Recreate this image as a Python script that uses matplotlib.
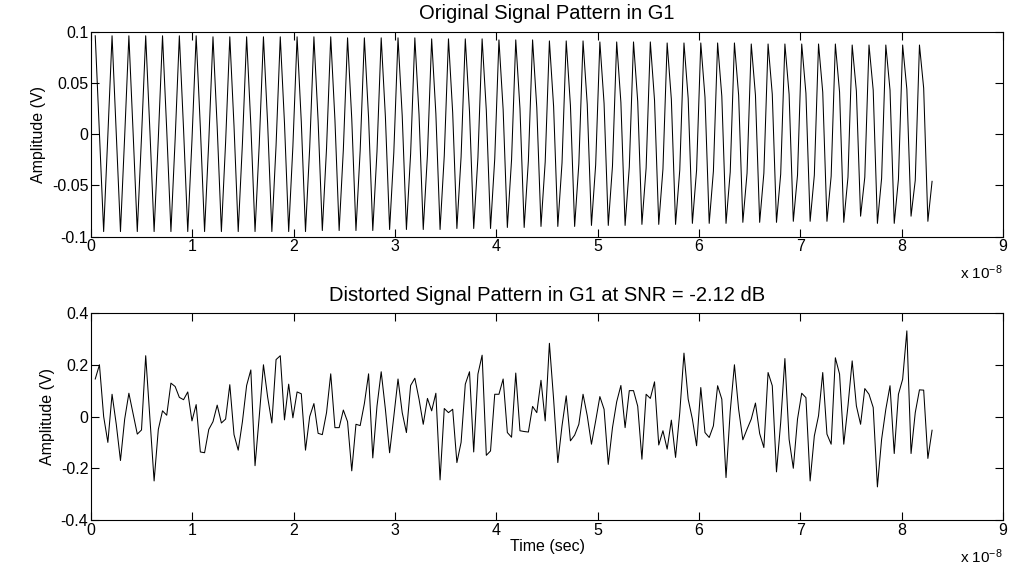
import numpy as np
import matplotlib
matplotlib.use('Agg')
import matplotlib.pyplot as plt
from matplotlib.ticker import FuncFormatter

plt.rcParams['font.family'] = ['Liberation Sans', 'DejaVu Sans']
plt.rcParams['mathtext.default'] = 'regular'

# ==================== data ====================
dt = 0.0415e-8          # sample step (sec)
n_samples = 200

# original signal: one value per sample, 4 samples per cycle
# (peak, after-peak, trough, after-trough) for each of 50 cycles
peaks = [0.096, 0.096, 0.096, 0.096, 0.096, 0.096, 0.096, 0.095, 0.095, 0.095,
         0.095, 0.095, 0.095, 0.095, 0.095, 0.094, 0.094, 0.094, 0.094, 0.094,
         0.093, 0.093, 0.093, 0.093, 0.092, 0.092, 0.092, 0.091, 0.091, 0.091,
         0.090, 0.090, 0.090, 0.090, 0.089, 0.089, 0.089, 0.089, 0.089, 0.088,
         0.088, 0.088, 0.088, 0.088, 0.088, 0.087, 0.087, 0.087, 0.087, 0.087]
after_peak = [0.000, 0.001, 0.002, 0.003, 0.004, 0.005, 0.006, 0.007, 0.008, 0.009,
              0.010, 0.011, 0.012, 0.013, 0.014, 0.015, 0.016, 0.017, 0.018, 0.019,
              0.020, 0.021, 0.022, 0.023, 0.024, 0.025, 0.026, 0.027, 0.028, 0.029,
              0.030, 0.031, 0.032, 0.033, 0.034, 0.035, 0.036, 0.037, 0.038, 0.038,
              0.039, 0.039, 0.040, 0.041, 0.041, 0.042, 0.043, 0.043, 0.044, 0.045]
troughs = [-0.095, -0.095, -0.095, -0.095, -0.095, -0.095, -0.095, -0.095, -0.095, -0.095,
           -0.095, -0.095, -0.095, -0.094, -0.094, -0.094, -0.094, -0.093, -0.093, -0.093,
           -0.093, -0.092, -0.092, -0.092, -0.091, -0.091, -0.090, -0.090, -0.090, -0.089,
           -0.089, -0.089, -0.088, -0.088, -0.088, -0.087, -0.087, -0.087, -0.086, -0.086,
           -0.086, -0.085, -0.085, -0.085, -0.086, -0.080, -0.087, -0.087, -0.080, -0.085]
after_trough = [-0.001, -0.002, -0.003, -0.004, -0.005, -0.006, -0.007, -0.008, -0.009, -0.010,
                -0.011, -0.012, -0.013, -0.014, -0.015, -0.016, -0.017, -0.018, -0.019, -0.020,
                -0.021, -0.022, -0.023, -0.024, -0.025, -0.026, -0.027, -0.028, -0.029, -0.030,
                -0.031, -0.032, -0.033, -0.034, -0.035, -0.035, -0.036, -0.037, -0.038, -0.038,
                -0.039, -0.040, -0.040, -0.041, -0.042, -0.042, -0.043, -0.044, -0.045, -0.046]

# distorted signal (SNR = -2.12 dB), 200 samples
distorted = [
    0.145, 0.200, 0.000, -0.100, 0.086, -0.030, -0.170, -0.010, 0.090, 0.010,
    -0.068, -0.052, 0.235, -0.010, -0.249, -0.050, 0.022, 0.005, 0.129, 0.116,
    0.074, 0.065, 0.095, -0.017, 0.046, -0.137, -0.140, -0.050, -0.020, 0.044,
    -0.025, -0.010, 0.123, -0.070, -0.130, -0.020, 0.120, 0.180, -0.190, 0.000,
    0.200, 0.075, -0.025, 0.220, 0.235, -0.013, 0.125, -0.005, 0.095, 0.088,
    -0.130, 0.000, 0.050, -0.065, -0.070, 0.015, 0.165, -0.043, -0.043, 0.025,
    -0.020, -0.210, -0.030, -0.035, 0.050, 0.165, -0.160, 0.040, 0.173, 0.028,
    -0.140, 0.000, 0.145, 0.015, -0.062, 0.120, 0.148, 0.067, -0.030, 0.070,
    0.022, 0.090, -0.245, 0.031, 0.015, 0.028, -0.178, -0.100, 0.125, 0.173,
    -0.137, 0.164, 0.237, -0.150, -0.133, 0.086, 0.086, 0.145, -0.062, -0.080,
    0.168, -0.055, -0.058, -0.060, 0.039, 0.015, 0.140, -0.017, 0.283, 0.067,
    -0.178, -0.036, 0.080, -0.094, -0.072, -0.030, 0.086, 0.003, -0.107, -0.017,
    0.077, 0.028, -0.185, -0.043, 0.057, 0.120, -0.043, 0.100, 0.100, 0.040,
    -0.165, 0.086, 0.070, 0.134, -0.110, -0.055, -0.126, -0.014, -0.158, 0.015,
    0.245, 0.067, -0.010, -0.113, 0.112, -0.062, -0.081, -0.036, 0.119, 0.067,
    -0.236, 0.020, 0.200, 0.028, -0.090, -0.049, -0.010, 0.052, -0.066, -0.120,
    0.170, 0.119, -0.214, -0.023, 0.224, -0.088, -0.200, -0.010, 0.090, 0.073,
    -0.249, -0.075, 0.003, 0.170, -0.068, -0.107, 0.227, 0.164, -0.107, 0.041,
    0.215, 0.041, -0.030, 0.108, 0.086, 0.035, -0.272, -0.088, 0.028, 0.119,
    -0.143, 0.086, 0.144, 0.331, -0.143, 0.015, 0.103, 0.102, -0.162, -0.053,
]

top_title = 'Original Signal Pattern in G1'
bottom_title = 'Distorted Signal Pattern in G1 at SNR = -2.12 dB'
x_ticks = [0, 1, 2, 3, 4, 5, 6, 7, 8, 9]
top_yticks = [-0.1, -0.05, 0, 0.05, 0.1]
bottom_yticks = [-0.4, -0.2, 0, 0.2, 0.4]

# ==================== build series ====================
t = np.arange(1, n_samples + 1) * dt
original = np.column_stack([peaks, after_peak, troughs, after_trough]).ravel()
t_scaled = t / 1e-8

fig = plt.figure(figsize=(10.24, 5.71), dpi=100)
ax1 = fig.add_axes([0.0889, 0.5855, 0.8906, 0.359])
ax2 = fig.add_axes([0.0889, 0.0893, 0.8906, 0.3625])


def fmt(v, pos):
    # MATLAB style labels with a plain hyphen
    return '%g' % v


for ax, y, yt, title in [(ax1, original, top_yticks, top_title),
                         (ax2, distorted, bottom_yticks, bottom_title)]:
    ax.plot(t_scaled, y, color='black', linewidth=0.75)
    ax.set_xlim(0, 9)
    ax.set_ylim(yt[0], yt[-1])
    ax.set_xticks(x_ticks)
    ax.set_yticks(yt)
    ax.yaxis.set_major_formatter(FuncFormatter(fmt))
    ax.tick_params(direction='in', length=6, width=0.8, top=True, right=True,
                   labelsize=11.5, pad=2, colors='black')
    for sp in ax.spines.values():
        sp.set_linewidth(0.8)
    ax.set_title(title, fontsize=14.5, pad=9)
    ax.set_ylabel('Amplitude (V)', fontsize=11.5, labelpad=4)
    ax.text(1.0, -0.13, r'x 10$^{-8}$', transform=ax.transAxes,
            ha='right', va='top', fontsize=11)

ax2.set_xlabel('Time (sec)', fontsize=11.5, labelpad=1)

fig.savefig('out.png', dpi=100)
